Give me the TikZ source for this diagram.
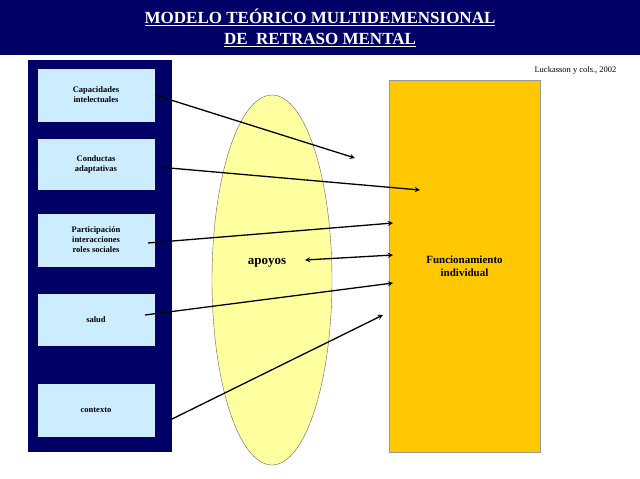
\documentclass[tikz,border=0pt]{standalone}
\usetikzlibrary{shapes.geometric}
\usepackage{fontspec}
\setmainfont{Liberation Serif}
\definecolor{navy}{RGB}{0,0,102}
\definecolor{lblue}{RGB}{204,236,255}
\definecolor{gold}{RGB}{255,200,0}
\definecolor{pyel}{RGB}{255,255,160}
\begin{document}
\begin{tikzpicture}[x=1pt,y=-1pt,
  box/.style={draw=navy,fill=lblue,minimum width=118pt,align=center,font=\bfseries\fontsize{8.5}{10}\selectfont,inner sep=0pt},
  arr/.style={-stealth,line width=1.3pt}]
\useasboundingbox (0,0) rectangle (640,479);
\fill[white] (0,0) rectangle (640,479);
\fill[navy] (0,0) rectangle (640,55);
\node[text=white,font=\bfseries\fontsize{17}{21}\selectfont,align=center] (title) at (320,28)
 {\underline{MODELO TEÓRICO MULTIDEMENSIONAL}\\\underline{DE\ \ RETRASO MENTAL}};
\node[anchor=east,font=\fontsize{8.5}{10}\selectfont] (cite) at (620,70) {Luckasson y cols., 2002};
\fill[navy] (28,60) rectangle (172,452);
\node[box,minimum height=54pt] (b1) at (96,95) {Capacidades\\intelectuales};
\node[box,minimum height=52pt] (b2) at (96,164) {Conductas\\adaptativas};
\node[box,minimum height=54pt] (b3) at (96,240) {Participación\\interacciones\\roles sociales};
\node[box,minimum height=53pt] (b4) at (96,320) {salud};
\node[box,minimum height=54pt] (b5) at (96,410) {contexto};
\node[ellipse,draw=black!60,fill=pyel,minimum width=120pt,minimum height=370pt] (ell) at (272,280) {};
\node[font=\bfseries\fontsize{13}{15}\selectfont] (ap) at (267,263) {apoyos};
\node[draw=black!40,fill=gold,minimum width=151pt,minimum height=372pt,font=\bfseries\fontsize{11}{13}\selectfont,align=center] (fi) at (464.5,266) {Funcionamiento\\individual};
\coordinate (e1) at (355,158);
\coordinate (e2) at (420,190);
\coordinate (e3) at (393,223);
\coordinate (e4) at (393,255);
\coordinate (e5) at (393,283);
\coordinate (e6) at (383,315);
\coordinate (s1) at (155,95);
\coordinate (s2) at (158,167);
\coordinate (s3) at (148,243);
\coordinate (s4) at (145,315);
\coordinate (s5) at (170,420);
\coordinate (s6) at (305,260);
\draw[arr] (s1) -- (e1);
\draw[arr] (s2) -- (e2);
\draw[arr] (s3) -- (e3);
\draw[stealth-stealth,line width=1.3pt] (s6) -- (e4);
\draw[arr] (s4) -- (e5);
\draw[arr] (s5) -- (e6);
\end{tikzpicture}
\end{document}
